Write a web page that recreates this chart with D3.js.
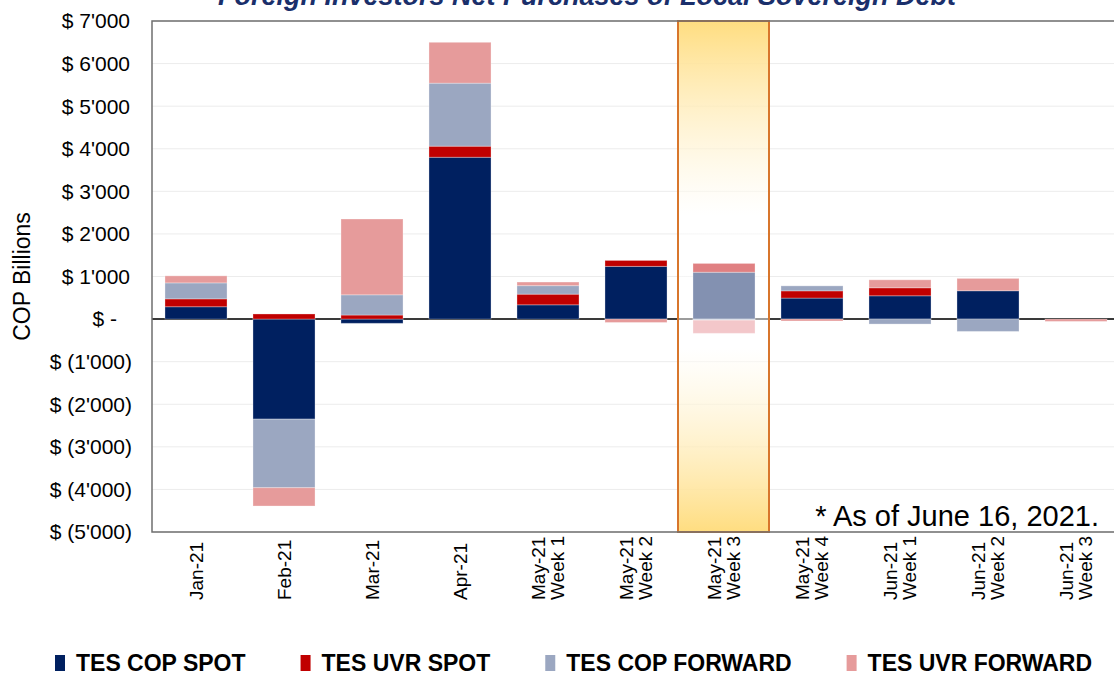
<!DOCTYPE html>
<html>
<head>
<meta charset="utf-8">
<script src="https://cdn.jsdelivr.net/npm/d3@7"></script>
<style>
  body { margin: 0; background: #fff; }
  text { font-family: Arial, "Liberation Sans", sans-serif; }
</style>
</head>
<body>
<svg id="chart" width="1114" height="676"></svg>
<script>
// chart data (COP billions)
var categories = ["Jan-21", "Feb-21", "Mar-21", "Apr-21", "May-21|Week 1", "May-21|Week 2",
                  "May-21|Week 3", "May-21|Week 4", "Jun-21|Week 1", "Jun-21|Week 2", "Jun-21|Week 3"];
var copSpot    = [290, -2350, -100, 3800, 335, 1237, 0, 493, 547, 665, 0];
var uvrSpot    = [185, 120, 95, 260, 250, 140, 0, 170, 188, 0, 0];
var copForward = [375, -1610, 475, 1480, 200, 0, 1100, 117, -117, -290, 0];
var uvrForward = [165, -430, 1780, 960, 85, -80, 207, -45, 187, 290, -55];
// lighter negative part shown in the highlighted week
var copForwardLight = [0, 0, 0, 0, 0, 0, -25, 0, 0, 0, 0];
var uvrForwardLight = [0, 0, 0, 0, 0, 0, -310, 0, 0, 0, 0];

var seriesNames  = ["TES COP SPOT", "TES UVR SPOT", "TES COP FORWARD", "TES UVR FORWARD"];
var seriesColors = ["#002060", "#c00000", "#9ba7c1", "#e69b9b"];
var yTicks = [-5000, -4000, -3000, -2000, -1000, 0, 1000, 2000, 3000, 4000, 5000, 6000, 7000];
var highlightCat = "May-21|Week 3";
var title = "Foreign Investors Net Purchases of Local Sovereign Debt";
var note = "* As of June 16, 2021.";

var svg = d3.select("#chart");
var plotLeft = 152, plotRight = 1120, plotTop = 21, plotBottom = 532;

var x = d3.scaleBand().domain(categories).range([plotLeft, plotRight])
  .paddingInner(0.295).paddingOuter(0.1475);
var y = d3.scaleLinear().domain([-5000, 7000]).range([plotBottom, plotTop]);

var keys = ["copSpot", "uvrSpot", "copForward", "uvrForward", "copForwardLight", "uvrForwardLight"];
var rows = categories.map(function(c, i) {
  return { cat: c, copSpot: copSpot[i], uvrSpot: uvrSpot[i], copForward: copForward[i],
           uvrForward: uvrForward[i], copForwardLight: copForwardLight[i], uvrForwardLight: uvrForwardLight[i] };
});
var stacked = d3.stack().keys(keys).offset(d3.stackOffsetDiverging)(rows);

function fillFor(key, cat) {
  if (key == "copForwardLight") return "#cbd2e1";
  if (key == "uvrForwardLight") return "#f3c7ca";
  if (cat == highlightCat && key == "copForward") return "#8391b1";
  if (cat == highlightCat && key == "uvrForward") return "#e08082";
  return seriesColors[keys.indexOf(key)];
}

// title (cut at the top like the original)
svg.append("text")
  .attr("x", 587).attr("y", 5)
  .attr("text-anchor", "middle")
  .style("font-size", "27px").style("font-weight", "bold").style("font-style", "italic")
  .style("fill", "#1a2f6b")
  .text(title);

// gridlines
svg.append("g").selectAll("line")
  .data(yTicks.filter(function(d) { return d != 0; }))
  .enter().append("line")
    .attr("x1", plotLeft).attr("x2", 1114)
    .attr("y1", function(d) { return y(d); }).attr("y2", function(d) { return y(d); })
    .style("stroke", "#ececec").style("stroke-width", 1);

// zero line
svg.append("line")
  .attr("x1", plotLeft).attr("x2", 1114).attr("y1", y(0)).attr("y2", y(0))
  .style("stroke", "#3a3a3a").style("stroke-width", 2);

// highlighted week
var grad = svg.append("defs").append("linearGradient")
  .attr("id", "hl").attr("x1", 0).attr("y1", 0).attr("x2", 0).attr("y2", 1);
grad.append("stop").attr("offset", "0%").attr("stop-color", "#ffdd80").attr("stop-opacity", 1);
grad.append("stop").attr("offset", "38%").attr("stop-color", "#ffffff").attr("stop-opacity", 0.5);
grad.append("stop").attr("offset", "64%").attr("stop-color", "#ffffff").attr("stop-opacity", 0.5);
grad.append("stop").attr("offset", "100%").attr("stop-color", "#ffdd80").attr("stop-opacity", 1);

var hc = x(highlightCat) + x.bandwidth() / 2;
svg.append("rect")
  .attr("x", hc - 46).attr("y", plotTop).attr("width", 91).attr("height", plotBottom - plotTop)
  .style("fill", "url(#hl)");

// bars
svg.append("g").selectAll("g")
  .data(stacked)
  .enter().append("g")
  .selectAll("rect")
    .data(function(s) { return s.map(function(d) { d.key = s.key; return d; }); })
    .enter().append("rect")
      .attr("x", function(d) { return x(d.data.cat); })
      .attr("width", x.bandwidth())
      .attr("y", function(d) { return y(d[1]); })
      .attr("height", function(d) { return Math.abs(y(d[0]) - y(d[1])); })
      .style("fill", function(d) { return fillFor(d.key, d.data.cat); })
      .style("stroke", "#ffffff").style("stroke-opacity", 0.3).style("stroke-width", 1);

// highlight border
svg.append("rect")
  .attr("x", hc - 46).attr("y", plotTop).attr("width", 91).attr("height", plotBottom - plotTop)
  .style("fill", "none").style("stroke", "#d8762c").style("stroke-width", 2);

// plot border
svg.append("path")
  .attr("d", "M1114," + plotTop + "H" + plotLeft + "V" + plotBottom + "H1114")
  .style("fill", "none").style("stroke", "#6f6f6f").style("stroke-width", 1.5);

// y axis labels
function fmt(d) {
  if (d == 0) return "$ -";
  var s = d3.format(",")(Math.abs(d)).replace(/,/g, "'");
  return d < 0 ? "$ (" + s + ")" : "$ " + s;
}
svg.append("g").selectAll("text")
  .data(yTicks)
  .enter().append("text")
    .attr("x", function(d) { return d == 0 ? 117 : d > 0 ? 130 : 132; })
    .attr("y", function(d) { return y(d); })
    .attr("dy", "0.35em")
    .attr("text-anchor", "end")
    .style("font-size", "21px").style("fill", "#000")
    .text(fmt);

svg.append("text")
  .attr("transform", "translate(30," + ((plotTop + plotBottom) / 2) + ") rotate(-90)")
  .attr("text-anchor", "middle")
  .style("font-size", "23px")
  .text("COP Billions");

// x axis labels, rotated
var xl = svg.append("g").selectAll("text")
  .data(categories)
  .enter().append("text")
    .attr("transform", function(d) { return "translate(" + (x(d) + x.bandwidth() / 2) + ",600) rotate(-90)"; })
    .attr("text-anchor", "start")
    .style("font-size", "19px");
xl.each(function(d) {
  var lines = d.split("|");
  var t = d3.select(this);
  lines.forEach(function(l, i) {
    t.append("tspan")
      .attr("x", 0)
      .attr("y", (i - (lines.length - 1) / 2) * 19)
      .attr("dy", "0.35em")
      .text(l);
  });
});

// note
svg.append("text")
  .attr("x", 1099).attr("y", 526)
  .attr("text-anchor", "end")
  .style("font-size", "29px")
  .text(note);

// legend
var lg = svg.append("g");
var lx = 55;
seriesNames.forEach(function(n, i) {
  lg.append("rect")
    .attr("x", lx).attr("y", 655).attr("width", 10).attr("height", 16)
    .style("fill", seriesColors[i]);
  var t = lg.append("text")
    .attr("x", lx + 21).attr("y", 671)
    .style("font-size", "23px").style("font-weight", "bold")
    .text(n);
  lx = lx + 21 + t.node().getComputedTextLength() + 55;
});
</script>
</body>
</html>
